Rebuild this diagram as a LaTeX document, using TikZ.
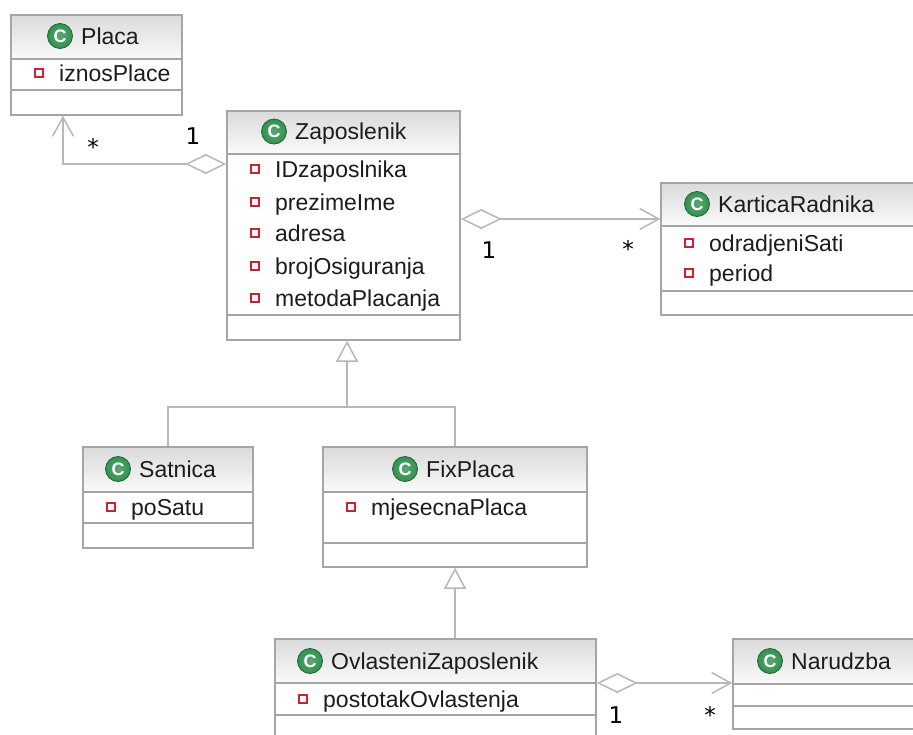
\documentclass[tikz,border=0pt]{standalone}
\usepackage{fontspec}
\setmainfont{Liberation Sans}
\newfontfamily\multfont{DejaVu Sans}
\usetikzlibrary{arrows.meta,fit}
\definecolor{boxline}{RGB}{165,165,165}
\definecolor{conline}{RGB}{184,184,184}
\definecolor{hdrtop}{RGB}{218,218,218}
\definecolor{hdrbot}{RGB}{250,250,250}
\definecolor{attrred}{RGB}{204,32,52}
\definecolor{icongreen}{RGB}{50,145,80}
\definecolor{icondark}{RGB}{28,100,52}
\definecolor{txt}{RGB}{28,28,28}
\tikzset{
  classbox/.style={draw=boxline, line width=1.5pt, inner sep=0pt, rectangle},
  sepline/.style={draw=boxline, line width=1.5pt},
  hdrshade/.style={top color=hdrtop, bottom color=hdrbot},
  htext/.style={anchor=base west, inner sep=0pt, text=txt, font=\fontsize{23}{27}\selectfont},
  atext/.style={anchor=base west, inner sep=0pt, text=txt, font=\fontsize{23}{27}\selectfont},
  amark/.style={draw=attrred, fill=white, line width=1.3pt, minimum size=8pt, inner sep=0pt, rectangle},
  cicon/.style={circle, draw=icondark, line width=0.8pt, inner color=icongreen!80!white, outer color=icongreen,
    minimum size=25pt, inner sep=0pt, text=white, font=\bfseries\fontsize{18}{18}\selectfont},
  mult/.style={anchor=base, inner sep=0pt, text=black, font=\multfont\fontsize{23}{27}\selectfont},
  conn/.style={draw=conline, line width=1.5pt},
  aggr/.style={conn, {Diamond[open, length=41pt, width=20pt]}-{Straight Barb[length=19pt, width=21pt]}},
  gen/.style={conn, -{Triangle[open, length=21pt, width=22pt]}}
}
% #1 name, #2 x1, #3 y1, #4 x2, #5 y2, #6 header bottom, #7 attribute bottom
\newcommand\umlclass[7]{%
  \shade[hdrshade] (#2,#3) rectangle (#4,#6);
  \node[classbox, fit={(#2,#3) (#4,#5)}] (#1) {};
  \draw[sepline] (#2,#6) -- (#4,#6);
  \draw[sepline] (#2,#7) -- (#4,#7);
}
% #1 name, #2 icon x, #3 header centre y, #4 text
\newcommand\umlhead[4]{%
  \node[cicon] (#1-i) at (#2,#3) {C};
  \node[htext] (#1) at ({#2+21},{#3+8}) {#4};
}
% #1 name, #2 box left, #3 row y, #4 text
\newcommand\umlattr[4]{%
  \node[amark] (#1-m) at ({#2+28},#3) {};
  \node[atext] (#1) at ({#2+48},{#3+8.3}) {#4};
}
\begin{document}
\begin{tikzpicture}[x=1pt,y=-1pt]
\useasboundingbox (0,0) rectangle (913,734);
\clip (0,0) rectangle (913,734);
\fill[white] (0,0) rectangle (913,734);

\umlclass{placa}{11}{15}{182}{115}{59}{90}
\umlclass{zap}{227}{111}{460}{340}{154}{315}
\umlclass{kart}{661}{183}{925}{315}{226}{291}
\umlclass{sat}{83}{447}{253}{548}{492}{523}
\umlclass{fix}{323}{447}{587}{567}{492}{543}
\umlclass{ovl}{275}{639}{596}{760}{683}{715}
\umlclass{nar}{733}{639}{925}{729}{684}{706}

\umlhead{placaH}{60}{36}{Placa}
\umlhead{zapH}{274}{131.5}{Zaposlenik}
\umlhead{kartH}{697}{204}{KarticaRadnika}
\umlhead{satH}{118}{469}{Satnica}
\umlhead{fixH}{405}{469}{FixPlaca}
\umlhead{ovlH}{310}{661}{OvlasteniZaposlenik}
\umlhead{narH}{770}{661}{Narudzba}

\umlattr{a1}{11}{73}{iznosPlace}
\umlattr{a2}{227}{169}{IDzaposlnika}
\umlattr{a3}{227}{202}{prezimeIme}
\umlattr{a4}{227}{233}{adresa}
\umlattr{a5}{227}{266}{brojOsiguranja}
\umlattr{a6}{227}{298}{metodaPlacanja}
\umlattr{a7}{661}{243}{odradjeniSati}
\umlattr{a8}{661}{273}{period}
\umlattr{a9}{83}{507}{poSatu}
\umlattr{a10}{323}{507}{mjesecnaPlaca}
\umlattr{a11}{275}{699}{postotakOvlastenja}

\coordinate (gj) at (347,407);
\draw[aggr] (zap.west |- 0,164) -| (placa.south -| 63,0);
\draw[aggr] (zap.east |- 0,219) -- (kart.west |- 0,219);
\draw[conn] (sat.north) |- (fix.north |- gj) -- (fix.north);
\draw[gen] (gj) -- (zap.south -| gj);
\draw[gen] (ovl.north -| fix.south) -- (fix.south);
\draw[aggr] (ovl.east |- 0,683) -- (nar.west |- 0,683);

\node[mult] (m1) at (193,144) {1};
\node[mult] (m2) at (93,155.5) {*};
\node[mult] (m3) at (489,258) {1};
\node[mult] (m4) at (628,257.5) {*};
\node[mult] (m5) at (616,723) {1};
\node[mult] (m6) at (710,723) {*};
\end{tikzpicture}
\end{document}
